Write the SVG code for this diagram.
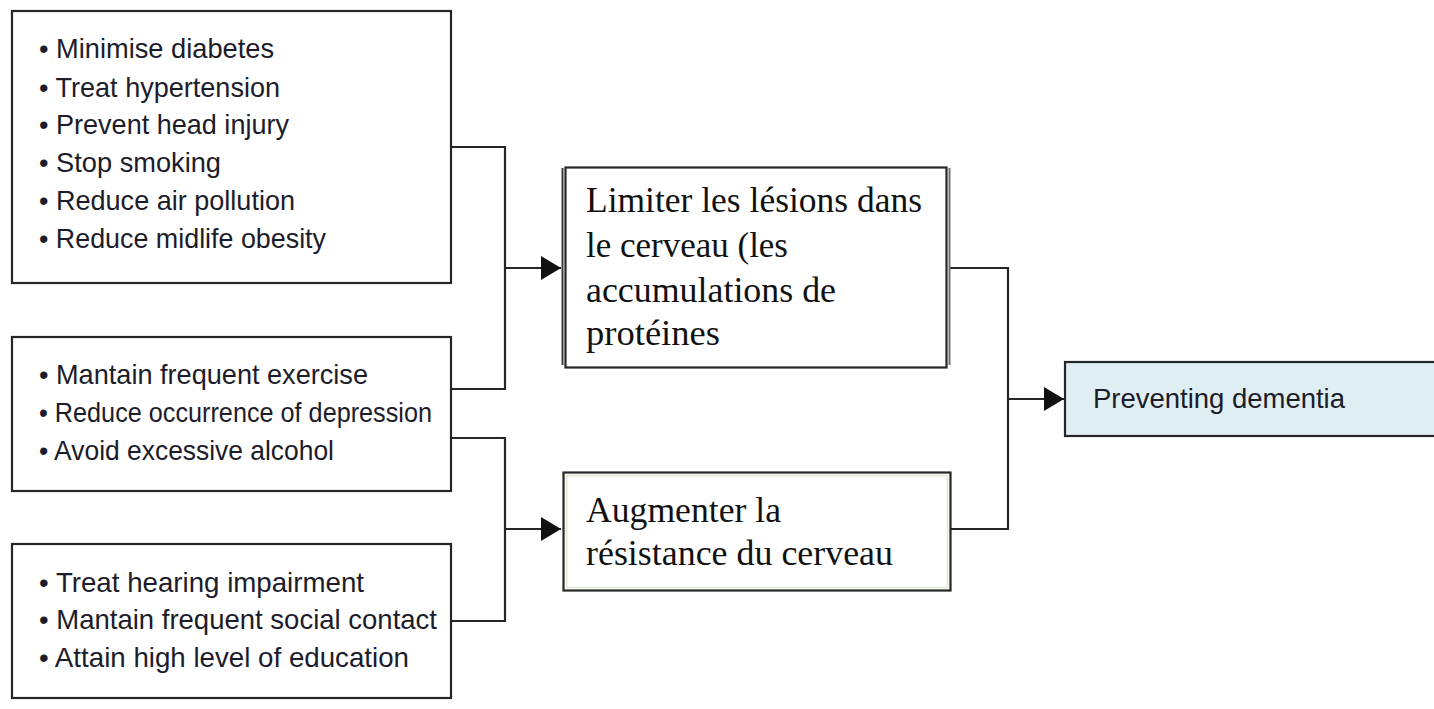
<svg xmlns="http://www.w3.org/2000/svg" width="1434" height="709" viewBox="0 0 1434 709">
<defs>
<style>
.box{fill:#ffffff;stroke:#262626;stroke-width:2.2}
.conn{fill:none;stroke:#262626;stroke-width:2.2}
.sans{font-family:"Liberation Sans",Arial,sans-serif;font-size:28px;fill:#1c1c2a}
.serif{font-family:"Liberation Serif","Times New Roman",serif;font-size:36px;fill:#111111}
</style>
<marker id="arr" markerUnits="userSpaceOnUse" markerWidth="22" markerHeight="26" refX="20" refY="12" orient="auto">
<path d="M0,0 L20,12 L0,24 Z" fill="#111111"/>
</marker>
</defs>
<rect width="1434" height="709" fill="#ffffff"/>

<g id="connectors">
<path class="conn" d="M451,147 H505 V389 H451"/>
<path class="conn" d="M505,268 H561" marker-end="url(#arr)"/>
<path class="conn" d="M451,438 H505 V621 H451"/>
<path class="conn" d="M505,529 H561" marker-end="url(#arr)"/>
<path class="conn" d="M950,268 H1008 V529 H951"/>
<path class="conn" d="M1008,399 H1064" marker-end="url(#arr)"/>
</g>

<g id="box1">
<rect class="box" x="12" y="11" width="439" height="272"/>
<text class="sans" x="39" y="58" textLength="235" lengthAdjust="spacingAndGlyphs">• Minimise diabetes</text>
<text class="sans" x="39" y="97" textLength="241" lengthAdjust="spacingAndGlyphs">• Treat hypertension</text>
<text class="sans" x="39" y="134" textLength="250" lengthAdjust="spacingAndGlyphs">• Prevent head injury</text>
<text class="sans" x="39" y="172" textLength="182" lengthAdjust="spacingAndGlyphs">• Stop smoking</text>
<text class="sans" x="39" y="210" textLength="256" lengthAdjust="spacingAndGlyphs">• Reduce air pollution</text>
<text class="sans" x="39" y="248" textLength="287" lengthAdjust="spacingAndGlyphs">• Reduce midlife obesity</text>
</g>

<g id="box2">
<rect class="box" x="12" y="337" width="439" height="154"/>
<text class="sans" x="39" y="384" textLength="329" lengthAdjust="spacingAndGlyphs">• Mantain frequent exercise</text>
<text class="sans" x="39" y="422" textLength="393" lengthAdjust="spacingAndGlyphs">• Reduce occurrence of depression</text>
<text class="sans" x="39" y="460" textLength="295" lengthAdjust="spacingAndGlyphs">• Avoid excessive alcohol</text>
</g>

<g id="box3">
<rect class="box" x="12" y="544" width="439" height="154"/>
<text class="sans" x="39" y="592" textLength="325" lengthAdjust="spacingAndGlyphs">• Treat hearing impairment</text>
<text class="sans" x="39" y="629" textLength="398" lengthAdjust="spacingAndGlyphs">• Mantain frequent social contact</text>
<text class="sans" x="39" y="667" textLength="370" lengthAdjust="spacingAndGlyphs">• Attain high level of education</text>
</g>

<g id="limiter">
<line x1="562.5" y1="168" x2="562.5" y2="365" stroke="#3a3a3a" stroke-width="2"/>
<line x1="949.5" y1="168" x2="949.5" y2="365" stroke="#6b736b" stroke-width="2"/>
<rect class="box" x="565.5" y="167.5" width="381" height="200"/>
<text class="serif" x="586" y="212" textLength="336" lengthAdjust="spacingAndGlyphs">Limiter les lésions dans</text>
<text class="serif" x="586" y="257" textLength="202" lengthAdjust="spacingAndGlyphs">le cerveau (les</text>
<text class="serif" x="586" y="302" textLength="250" lengthAdjust="spacingAndGlyphs">accumulations de</text>
<text class="serif" x="586" y="345" textLength="134" lengthAdjust="spacingAndGlyphs">protéines</text>
</g>

<g id="augmenter">
<rect class="box" x="563.5" y="472.5" width="387" height="118"/>
<rect x="566.5" y="475.5" width="381" height="112" fill="none" stroke="#e3ecdc" stroke-width="2"/>
<text class="serif" x="586" y="522" textLength="195" lengthAdjust="spacingAndGlyphs">Augmenter la</text>
<text class="serif" x="586" y="565" textLength="307" lengthAdjust="spacingAndGlyphs">résistance du cerveau</text>
</g>

<g id="preventing">
<rect x="1065" y="362" width="375" height="74" fill="#deeef3" stroke="#262626" stroke-width="2.2"/>
<text class="sans" x="1093" y="408" textLength="252" lengthAdjust="spacingAndGlyphs" fill="#1f2a3a">Preventing dementia</text>
</g>
</svg>
